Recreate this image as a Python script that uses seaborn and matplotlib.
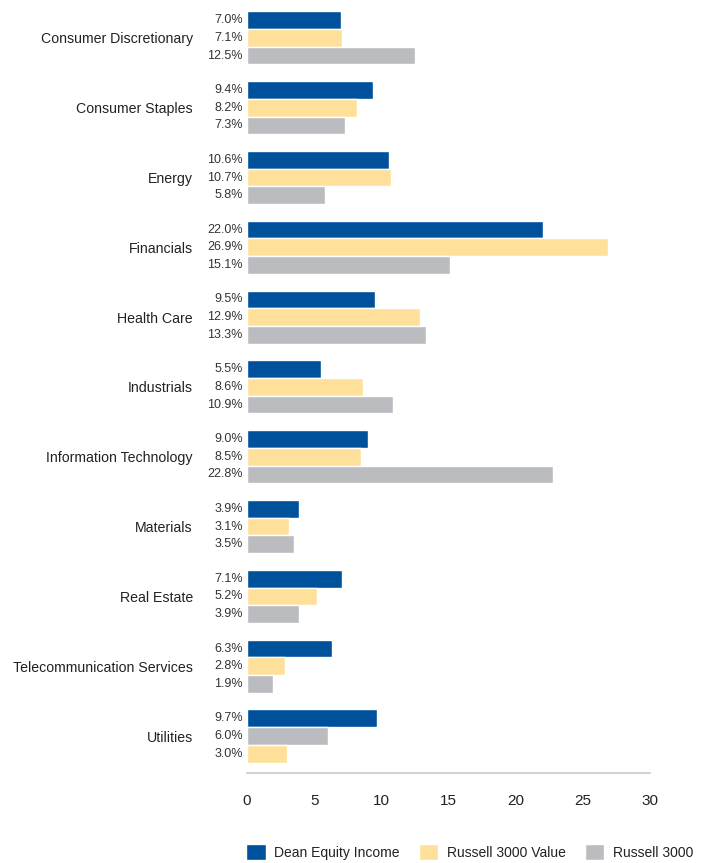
import pandas as pd
import matplotlib.pyplot as plt
import seaborn as sns

# dati (% del portafoglio per settore)
sectors = ['Consumer Discretionary', 'Consumer Staples', 'Energy', 'Financials',
           'Health Care', 'Industrials', 'Information Technology', 'Materials',
           'Real Estate', 'Telecommunication Services', 'Utilities']
dean_equity_income = [7.0, 9.4, 10.6, 22.0, 9.5, 5.5, 9.0, 3.9, 7.1, 6.3, 9.7]
russell_3000_value = [7.1, 8.2, 10.7, 26.9, 12.9, 8.6, 8.5, 3.1, 5.2, 2.8, 6.0]
russell_3000 = [12.5, 7.3, 5.8, 15.1, 13.3, 10.9, 22.8, 3.5, 3.9, 1.9, 3.0]
series_names = ['Dean Equity Income', 'Russell 3000 Value', 'Russell 3000']
colors = ['#00519B', '#FEE09A', '#BBBCC0']

df = pd.DataFrame({
    'sector': sectors * 3,
    'series': [series_names[0]] * len(sectors) + [series_names[1]] * len(sectors)
              + [series_names[2]] * len(sectors),
    'value': dean_equity_income + russell_3000_value + russell_3000,
})

sns.set_style("white")
plt.rcParams['font.family'] = ['Liberation Sans', 'DejaVu Sans']

fig = plt.figure(figsize=(7.01, 8.63), dpi=100)
ax = fig.add_axes([247 / 701, 1 - 773 / 863, 403 / 701, 770 / 863])

sns.barplot(data=df, y='sector', x='value', hue='series', hue_order=series_names,
            order=sectors, palette=colors, width=0.76, saturation=1,
            orient='h', ax=ax, legend=True)

# etichette valori a sinistra delle barre
for container in ax.containers:
    for bar in container:
        w = bar.get_width()
        ax.annotate(f'{w:.1f}%', xy=(0, bar.get_y() + bar.get_height() / 2),
                    xytext=(-3, 0), textcoords='offset points',
                    ha='right', va='center', fontsize=9, color='#333333')

# nel grafico originale i colori di Utilities sono invertiti
util_mid = ax.containers[1][len(sectors) - 1]
util_low = ax.containers[2][len(sectors) - 1]
util_mid.set_facecolor(colors[2])
util_low.set_facecolor(colors[1])

ax.set_xlim(0, 30)
ax.set_ylim(len(sectors) - 0.47, -0.5)
ax.set_xticks([0, 5, 10, 15, 20, 25, 30])
ax.set_xlabel('')
ax.set_ylabel('')
ax.tick_params(axis='x', length=0, pad=15, labelsize=11, labelcolor='#222222')
ax.tick_params(axis='y', length=0, pad=39, labelsize=10.2, labelcolor='#222222')

for side in ['top', 'right', 'left']:
    ax.spines[side].set_visible(False)
ax.spines['bottom'].set_color('#C8C8C8')
ax.spines['bottom'].set_linewidth(1.2)

handles, labels = ax.get_legend_handles_labels()
ax.legend_.remove()
fig.legend(handles, labels, loc='upper left', bbox_to_anchor=(242 / 701, 1 - 840 / 863),
           ncol=3, frameon=False, fontsize=10, handlelength=1.4, handleheight=1.4,
           handletextpad=0.6, columnspacing=1.4, labelcolor='#222222',
           borderaxespad=0, borderpad=0.3)

plt.savefig('out.png', dpi=100)
plt.close()
